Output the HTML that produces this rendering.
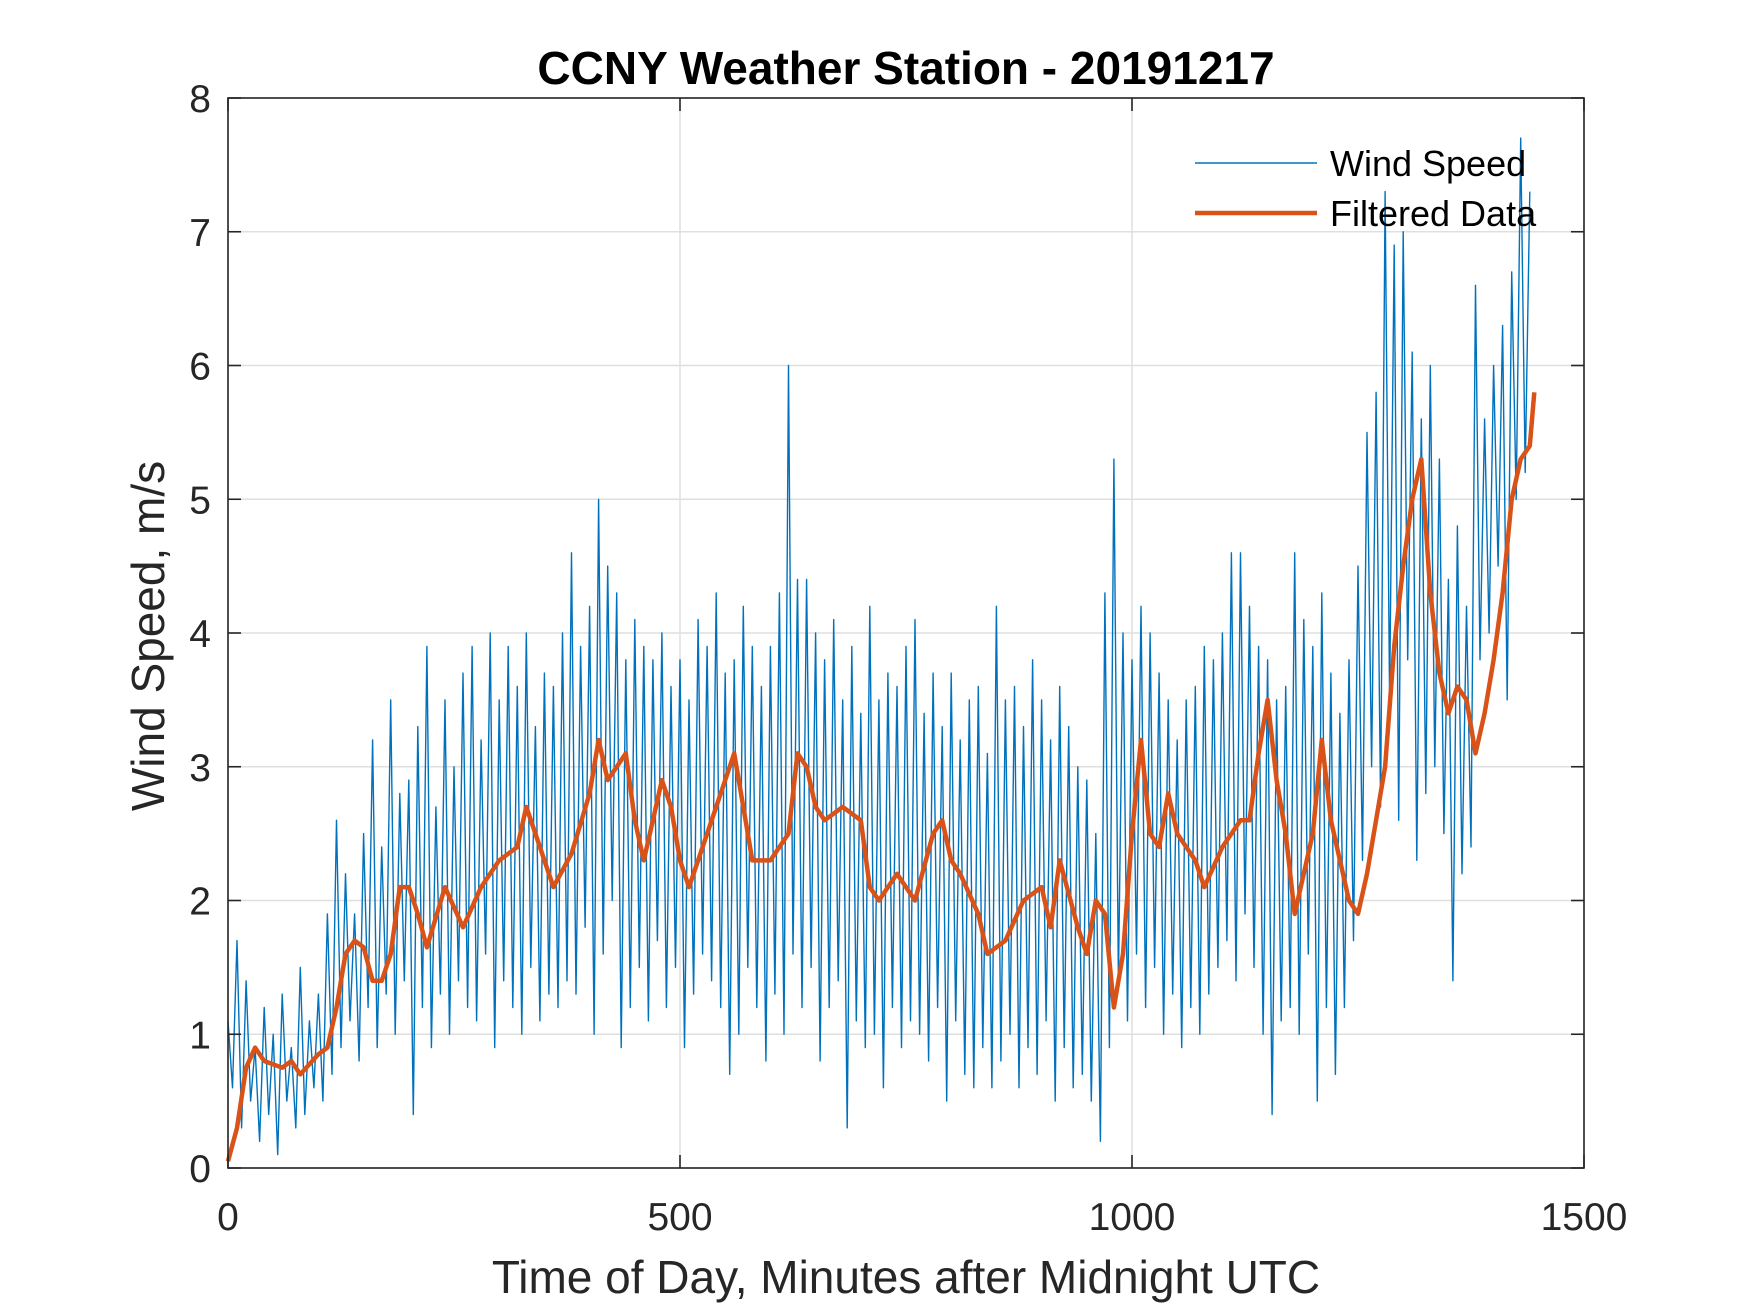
<!DOCTYPE html>
<html><head><meta charset="utf-8"><style>body{margin:0;background:#fff}svg{display:block}</style></head>
<body>
<svg id="chart" width="1750" height="1313" xmlns="http://www.w3.org/2000/svg" font-family="'Liberation Sans', sans-serif">
<rect width="1750" height="1313" fill="#fff"/>
<g id="grid"></g><g id="series"></g><g id="axes"></g>
</svg>
<script>
const xTicks=[0,500,1000,1500];
const yTicks=[0,1,2,3,4,5,6,7,8];
const rawStep=5;
const rawValues=[
1.1,0.6,1.7,0.3,1.4,0.5,0.9,0.2,1.2,0.4,1.0,0.1,1.3,0.5,0.9,0.3,1.5,0.4,1.1,0.6,1.3,0.5,1.9,0.7,
2.6,0.9,2.2,1.1,1.9,0.8,2.5,1.2,3.2,0.9,2.4,1.3,3.5,1.0,2.8,1.4,2.9,0.4,3.3,1.2,3.9,0.9,2.7,1.3,
3.5,1.0,3.0,1.4,3.7,1.2,3.9,1.1,3.2,1.6,4.0,0.9,3.5,1.4,3.9,1.2,3.6,1.0,4.0,1.5,3.3,1.1,3.7,1.3,
3.6,1.2,4.0,1.4,4.6,1.3,3.9,1.8,4.2,1.0,5.0,1.6,4.5,2.0,4.3,0.9,3.8,1.2,4.1,1.5,3.9,1.1,3.8,1.7,
4.0,1.2,3.6,1.5,3.8,0.9,3.5,1.3,4.1,1.6,3.9,1.4,4.3,1.2,3.7,0.7,3.8,1.0,4.2,1.5,3.9,1.2,3.6,0.8,
3.9,1.3,4.3,1.0,6.0,1.6,4.4,1.2,4.4,1.5,4.0,0.8,3.8,1.2,4.1,1.4,3.5,0.3,3.9,1.1,3.4,0.9,4.2,1.0,
3.5,0.6,3.7,1.2,3.6,0.9,3.9,1.1,4.1,1.0,3.4,0.8,3.7,1.2,3.3,0.5,3.7,1.1,3.2,0.7,3.5,0.6,3.6,0.9,
3.1,0.6,4.2,0.8,3.5,1.0,3.6,0.6,3.3,0.9,3.8,0.7,3.5,1.1,3.2,0.5,3.6,0.9,3.3,0.6,3.0,0.7,2.9,0.5,
2.5,0.2,4.3,0.9,5.3,1.4,4.0,1.1,3.8,1.6,4.2,1.2,4.0,1.5,3.7,1.0,3.5,1.3,3.2,0.9,3.5,1.2,3.6,1.0,
3.9,1.3,3.8,1.5,4.0,1.7,4.6,1.4,4.6,1.9,4.2,1.5,3.9,1.0,3.8,0.4,3.5,1.1,3.6,1.2,4.6,1.0,4.1,1.6,
3.9,0.5,4.3,1.2,3.7,0.7,3.4,1.2,3.8,1.7,4.5,2.3,5.5,3.0,5.8,2.7,7.3,3.5,6.9,2.6,7.0,3.8,6.1,2.3,
5.6,2.8,6.0,3.0,5.3,2.5,4.4,1.4,4.8,2.2,4.2,2.4,6.6,3.8,5.6,4.0,6.0,4.5,6.3,3.5,6.7,5.0,7.7,5.2,
7.3];
const filtT=[0,10,20,30,40,60,70,80,100,110,120,130,140,150,160,170,180,190,200,210,220,240,260,280,300,320,330,340,350,360,380,400,410,420,440,450,460,470,480,490,500,510,520,540,560,570,580,600,620,630,640,650,660,680,700,710,720,740,760,780,790,800,810,830,840,860,880,900,910,920,940,950,960,970,980,990,1000,1010,1020,1030,1040,1050,1060,1070,1080,1100,1120,1130,1140,1150,1160,1170,1180,1200,1210,1220,1240,1250,1260,1280,1290,1300,1310,1320,1330,1340,1350,1360,1370,1380,1390,1400,1410,1420,1430,1440,1445];
const filtV=[0.05,0.3,0.75,0.9,0.8,0.75,0.8,0.7,0.85,0.9,1.2,1.6,1.7,1.65,1.4,1.4,1.6,2.1,2.1,1.9,1.65,2.1,1.8,2.1,2.3,2.4,2.7,2.5,2.3,2.1,2.35,2.8,3.2,2.9,3.1,2.6,2.3,2.6,2.9,2.7,2.3,2.1,2.3,2.7,3.1,2.7,2.3,2.3,2.5,3.1,3.0,2.7,2.6,2.7,2.6,2.1,2.0,2.2,2.0,2.5,2.6,2.3,2.2,1.9,1.6,1.7,2.0,2.1,1.8,2.3,1.8,1.6,2.0,1.9,1.2,1.6,2.5,3.2,2.5,2.4,2.8,2.5,2.4,2.3,2.1,2.4,2.6,2.6,3.1,3.5,2.9,2.5,1.9,2.5,3.2,2.6,2.0,1.9,2.2,3.0,3.9,4.5,5.0,5.3,4.3,3.7,3.4,3.6,3.5,3.1,3.4,3.8,4.3,5.0,5.3,5.4,5.8];

const L=228,R=1584,T=98,B=1168;
const xs=v=>L+(v-0)/(1500-0)*(R-L);
const ys=v=>B-(v-0)/(8-0)*(B-T);
const NS='http://www.w3.org/2000/svg';
function mk(tag,attrs,parent,text){const e=document.createElementNS(NS,tag);for(const k in attrs)e.setAttribute(k,attrs[k]);if(text!==undefined)e.textContent=text;parent.appendChild(e);return e;}
const grid=document.getElementById('grid'),series=document.getElementById('series'),axes=document.getElementById('axes');
xTicks.forEach(t=>{const l=mk('line',{x1:xs(t),x2:xs(t),y1:T,y2:B,stroke:'#dfdfdf','stroke-width':1.5},grid);

});
yTicks.forEach(t=>{const l=mk('line',{x1:L,x2:R,y1:ys(t),y2:ys(t),stroke:'#dfdfdf','stroke-width':1.5},grid);

});
const rp=rawValues.map((v,i)=>xs(i*rawStep).toFixed(1)+','+ys(v).toFixed(1)).join(' ');
const raw=mk('polyline',{points:rp,fill:'none',stroke:'#0072BD','stroke-width':1.4,'stroke-linejoin':'round'},series);


const fp=filtT.map((t,i)=>xs(t).toFixed(1)+','+ys(filtV[i]).toFixed(1)).join(' ');
const fl=mk('polyline',{points:fp,fill:'none',stroke:'#D95319','stroke-width':4.5,'stroke-linejoin':'round'},series);


const box=mk('rect',{x:L,y:T,width:R-L,height:B-T,fill:'none',stroke:'#262626','stroke-width':1.6},axes);


xTicks.forEach(t=>{const x=xs(t);
mk('line',{x1:x,x2:x,y1:B,y2:B-13,stroke:'#262626','stroke-width':1.6},axes);
mk('line',{x1:x,x2:x,y1:T,y2:T+13,stroke:'#262626','stroke-width':1.6},axes);
const tx=mk('text',{x:x,y:1230,'text-anchor':'middle','font-size':39,fill:'#262626'},axes,String(t));

});
yTicks.forEach(t=>{const y=ys(t);
mk('line',{x1:L,x2:L+13,y1:y,y2:y,stroke:'#262626','stroke-width':1.6},axes);
mk('line',{x1:R,x2:R-13,y1:y,y2:y,stroke:'#262626','stroke-width':1.6},axes);
const tx=mk('text',{x:211,y:y+14,'text-anchor':'end','font-size':39,fill:'#262626'},axes,String(t));

});
</script>
<svg style="position:absolute;left:0;top:0" width="1750" height="1313" font-family="'Liberation Sans', sans-serif">
<text x="906" y="84" text-anchor="middle" font-size="46" font-weight="bold" fill="#000">CCNY Weather Station - 20191217</text>
<text x="906" y="1293" text-anchor="middle" font-size="46" fill="#262626">Time of Day, Minutes after Midnight UTC</text>
<text transform="translate(164,636) rotate(-90)" text-anchor="middle" font-size="46" fill="#262626">Wind Speed, m/s</text>
<g>
<line x1="1195" x2="1317" y1="163" y2="163" stroke="#0072BD" stroke-width="1.6"/>
<text x="1330" y="176" font-size="36" fill="#000">Wind Speed</text>
<line x1="1195" x2="1317" y1="213" y2="213" stroke="#D95319" stroke-width="4.5"/>
<text x="1330" y="226" font-size="36" fill="#000">Filtered Data</text>
</g>
</svg>
</body></html>
